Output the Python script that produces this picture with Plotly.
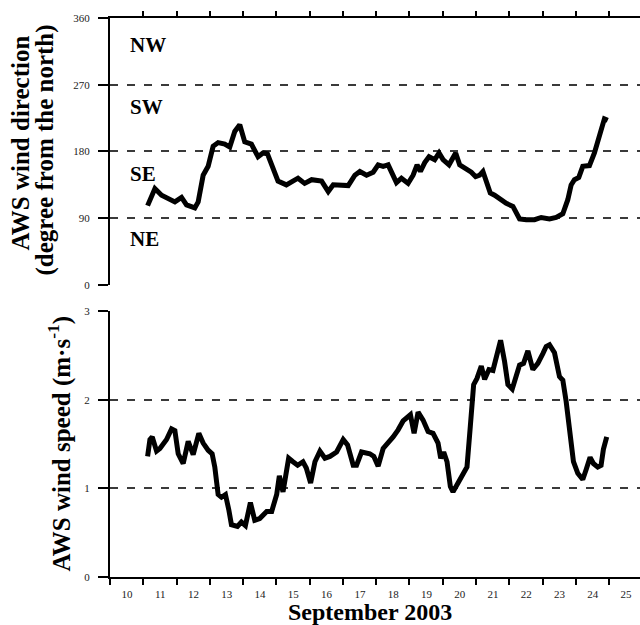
import plotly.graph_objects as go

# ---- data ----
dir_day = [11.13, 11.35, 11.55, 11.75, 11.95, 12.15, 12.30, 12.55, 12.65, 12.80,
           12.95, 13.10, 13.25, 13.45, 13.60, 13.75, 13.90, 14.05, 14.25, 14.45,
           14.60, 14.73, 14.90, 15.05, 15.30, 15.45, 15.65, 15.85, 16.06, 16.36,
           16.56, 16.71, 16.96, 17.16, 17.36, 17.51, 17.71, 17.91, 18.06, 18.21,
           18.36, 18.46, 18.61, 18.76, 18.96, 19.11, 19.23, 19.33, 19.46, 19.59,
           19.76, 19.89, 20.01, 20.19, 20.39, 20.51, 20.71, 20.86, 20.99, 21.11,
           21.21, 21.31, 21.43, 21.56, 21.71, 21.91, 22.11, 22.21, 22.31, 22.51,
           22.76, 22.96, 23.21, 23.41, 23.61, 23.76, 23.86, 23.96, 24.09, 24.21,
           24.41, 24.56, 24.71, 24.86, 24.96]
dir_deg = [107, 130, 121, 116, 112, 118, 108, 104, 112, 148,
           160, 187, 192, 190, 186, 207, 216, 193, 190, 173,
           178, 177, 155, 140, 135, 139, 144, 137, 142, 140,
           126, 135, 135, 134, 148, 153, 148, 152, 162, 160,
           162, 153, 138, 144, 137, 148, 162, 153, 165, 173,
           169, 178, 169, 162, 178, 162, 157, 152, 146, 148,
           153, 139, 124, 121, 116, 110, 106, 97, 89, 88,
           88, 91, 89, 91, 96, 115, 135, 142, 145, 160,
           161, 178, 200, 224, 222]

spd_day = [11.13, 11.20, 11.27, 11.40, 11.50, 11.60, 11.70, 11.85, 11.95, 12.05,
           12.20, 12.35, 12.50, 12.67, 12.80, 12.95, 13.07, 13.15, 13.25, 13.35,
           13.47, 13.57, 13.65, 13.83, 13.95, 14.07, 14.22, 14.35, 14.50, 14.71,
           14.86, 15.01, 15.09, 15.20, 15.37, 15.50, 15.64, 15.80, 15.90, 16.03,
           16.16, 16.31, 16.46, 16.61, 16.81, 17.01, 17.14, 17.31, 17.41, 17.56,
           17.81, 17.93, 18.06, 18.21, 18.36, 18.51, 18.66, 18.81, 19.03, 19.14,
           19.26, 19.41, 19.56, 19.71, 19.86, 19.94, 20.03, 20.13, 20.23, 20.31,
           20.46, 20.58, 20.73, 20.83, 20.93, 21.03, 21.16, 21.26, 21.39, 21.51,
           21.63, 21.74, 21.86, 21.96, 22.09, 22.21, 22.31, 22.43, 22.56, 22.71,
           22.86, 23.01, 23.11, 23.21, 23.36, 23.51, 23.61, 23.71, 23.81, 23.93,
           24.06, 24.21, 24.31, 24.43, 24.53, 24.66, 24.76, 24.83, 24.93]
spd_ms = [1.36, 1.55, 1.58, 1.42, 1.45, 1.51, 1.55, 1.67, 1.65, 1.39,
          1.28, 1.53, 1.38, 1.62, 1.51, 1.43, 1.39, 1.24, 0.93, 0.90,
          0.93, 0.76, 0.59, 0.57, 0.62, 0.58, 0.84, 0.64, 0.66, 0.74,
          0.74, 0.93, 1.14, 0.96, 1.34, 1.30, 1.26, 1.30, 1.23, 1.06,
          1.30, 1.42, 1.34, 1.36, 1.41, 1.55, 1.49, 1.26, 1.26, 1.41,
          1.39, 1.36, 1.25, 1.45, 1.51, 1.58, 1.66, 1.76, 1.83, 1.62,
          1.86, 1.77, 1.64, 1.62, 1.51, 1.34, 1.41, 1.30, 1.02, 0.96,
          1.06, 1.13, 1.24, 1.70, 2.17, 2.24, 2.38, 2.23, 2.34, 2.33,
          2.50, 2.67, 2.43, 2.17, 2.12, 2.28, 2.39, 2.41, 2.55, 2.34,
          2.41, 2.52, 2.60, 2.62, 2.53, 2.26, 2.22, 1.98, 1.66, 1.30,
          1.17, 1.10, 1.21, 1.35, 1.28, 1.24, 1.26, 1.44, 1.58]

day_ticks = list(range(10, 26))
day_labels = [str(d) for d in day_ticks]
dir_ticks = [0, 90, 180, 270, 360]
spd_ticks = [0, 1, 2, 3]
sectors = ["NW", "SW", "SE", "NE"]
sector_deg = [324, 240, 149, 62]

FONT = "Liberation Serif"
XR = [10, 25.93]
GRID = dict(showgrid=True, gridcolor="#3a3a3a", gridwidth=1.5, griddash="8px,9px")

fig = go.Figure()
fig.add_trace(go.Scatter(x=dir_day, y=dir_deg, xaxis="x2", yaxis="y2", mode="lines",
                         line=dict(color="black", width=5), showlegend=False))
fig.add_trace(go.Scatter(x=spd_day, y=spd_ms, xaxis="x", yaxis="y", mode="lines",
                         line=dict(color="black", width=5), showlegend=False))

for name, deg in zip(sectors, sector_deg):
    fig.add_annotation(x=10.53, y=deg, xref="x2", yref="y2", text=f"<b>{name}</b>",
                       showarrow=False, xanchor="left", yanchor="middle",
                       font=dict(family=FONT, size=21, color="black"))

axis_common = dict(showline=True, linewidth=2, linecolor="black", tickwidth=2,
                   tickcolor="black", zeroline=False)

fig.update_layout(
    width=640, height=625,
    margin=dict(l=110, r=0, t=18, b=48),
    paper_bgcolor="white", plot_bgcolor="white",
    font=dict(family=FONT, color="#222222"),
    xaxis=dict(domain=[0, 1], anchor="y", range=XR, tickmode="array",
               tickvals=day_ticks, ticktext=day_labels, ticks="outside", ticklen=6,
               ticklabelshift=17, tickfont=dict(size=11, family=FONT),
               showgrid=False, **axis_common),
    xaxis3=dict(overlaying="x", anchor="y", side="bottom", range=XR, tickmode="array",
                tickvals=day_ticks[1:], ticks="inside", ticklen=5, tickwidth=2,
                tickcolor="black", showticklabels=False, showgrid=False, zeroline=False,
                showline=False),
    xaxis2=dict(domain=[0, 1], anchor="y2", side="top", range=XR, tickmode="array",
                tickvals=day_ticks[1:], ticks="outside", ticklen=5,
                showticklabels=False, showgrid=False, **axis_common),
    xaxis4=dict(overlaying="x2", anchor="y2", side="top", range=XR, tickmode="array",
                tickvals=day_ticks[1:], ticks="inside", ticklen=6, tickwidth=2,
                tickcolor="black", showticklabels=False, showgrid=False, zeroline=False,
                showline=False),
    yaxis=dict(domain=[0, 0.4758], anchor="x", range=[0, 3], tickmode="array",
               tickvals=spd_ticks, ticks="outside", ticklen=10, ticklabelstandoff=6,
               tickfont=dict(size=11, family=FONT), **GRID, **axis_common),
    yaxis3=dict(overlaying="y", anchor="x", side="left", range=[0, 3], tickmode="array",
                tickvals=spd_ticks, ticks="inside", ticklen=8, tickwidth=2,
                tickcolor="black", showticklabels=False, showgrid=False,
                zeroline=False, showline=False),
    yaxis2=dict(domain=[0.5224, 1], anchor="x2", range=[0, 360], tickmode="array",
                tickvals=dir_ticks, ticks="outside", ticklen=10, ticklabelstandoff=6,
                tickfont=dict(size=11, family=FONT), **GRID, **axis_common),
    yaxis4=dict(overlaying="y2", anchor="x2", side="left", range=[0, 360],
                tickmode="array", tickvals=dir_ticks, ticks="inside", ticklen=8,
                tickwidth=2, tickcolor="black", showticklabels=False, showgrid=False,
                zeroline=False, showline=False),
)

title_font = dict(family=FONT, size=25, color="black")
fig.add_annotation(x=0, y=0.7755, xref="paper", yref="paper", xshift=-90,
                   text="<b>AWS wind direction</b>", textangle=-90, showarrow=False,
                   xanchor="center", yanchor="middle", font=title_font)
fig.add_annotation(x=0, y=0.763, xref="paper", yref="paper", xshift=-65,
                   text="<b>(degree from the north)</b>", textangle=-90, showarrow=False,
                   xanchor="center", yanchor="middle", font=title_font)
fig.add_annotation(x=0, y=0.2388, xref="paper", yref="paper", xshift=-50,
                   text="<b>AWS wind speed (m·s<sup>-1</sup>)</b>", textangle=-90,
                   showarrow=False, xanchor="center", yanchor="middle", font=title_font)
fig.add_annotation(x=0.4906, y=0, xref="paper", yref="paper", yshift=-35,
                   text="<b>September 2003</b>", showarrow=False,
                   xanchor="center", yanchor="middle",
                   font=dict(family=FONT, size=24, color="black"))

fig.write_html("out.html")
